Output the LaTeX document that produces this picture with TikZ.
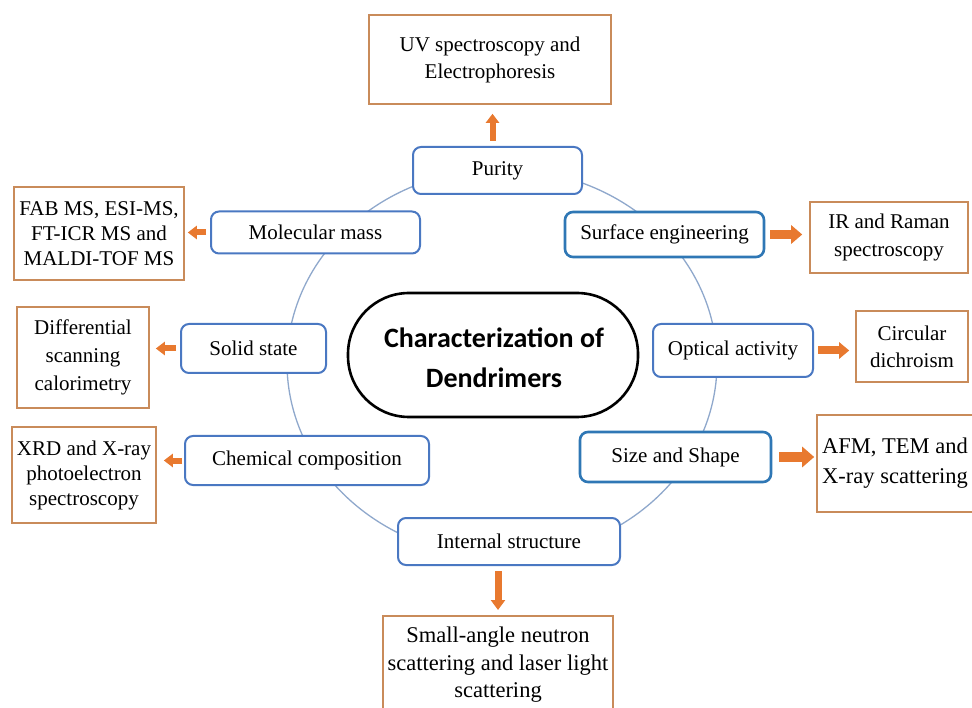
\documentclass[tikz,border=0pt]{standalone}
\usepackage{fontspec}
\setmainfont{Liberation Serif}
\newfontfamily\calibrifont{Carlito}
\usetikzlibrary{arrows.meta}
\definecolor{boxbrown}{HTML}{C98B5A}
\definecolor{arrorange}{HTML}{E8792F}
\definecolor{boxblue}{HTML}{4A78C2}
\definecolor{boxbluedark}{HTML}{2F77B5}
\definecolor{ringblue}{HTML}{8FA8CC}
\begin{document}
\begin{tikzpicture}[x=1pt,y=-1pt,
  method/.style={draw=boxbrown, line width=1.6pt, fill=white, align=center, inner sep=0pt, font=\fontsize{21}{25}\selectfont},
  prop/.style={draw=boxblue, line width=2pt, rounded corners=8pt, fill=white, align=center, inner sep=0pt, font=\fontsize{21}{25}\selectfont},
  propdark/.style={prop, draw=boxbluedark, line width=2.6pt},
  hub/.style={draw=black, line width=2.6pt, rounded corners=61pt, fill=white, inner sep=0pt},
  hubtxt/.style={align=center, inner sep=0pt, font=\calibrifont\bfseries\fontsize{28}{40}\selectfont},
  oarr/.style={draw=arrorange, line width=6pt, -{Triangle[width=13pt,length=9pt]}},
  oarrbig/.style={draw=arrorange, line width=9pt, -{Triangle[width=18pt,length=11pt]}}
]
\useasboundingbox (0,0) rectangle (972,708);
\clip (0,0) rectangle (972,708);
\fill[white] (0,0) rectangle (972,708);

% ring
\draw[ringblue, line width=1.3pt] (502,363) ellipse [x radius=215, y radius=194];

% centre
\node[hub, minimum width=290pt, minimum height=124pt] (hub) at (493,355) {};
\node[hubtxt] (hubtext) at (494,358) {Characterization of\\Dendrimers};

% properties
\node[prop, minimum width=169pt, minimum height=47pt] (purity) at (497.5,170.5) {Purity};
\node[prop, minimum width=209pt, minimum height=42pt] (mm) at (315.5,232.5) {Molecular mass};
\node[propdark, minimum width=199pt, minimum height=45pt] (surf) at (664.5,234.5) {Surface engineering};
\node[prop, minimum width=145pt, minimum height=49pt] (solid) at (253.5,348.5) {Solid state};
\node[prop, minimum width=160pt, minimum height=53pt] (opt) at (733,350.5) {Optical activity};
\node[prop, minimum width=244pt, minimum height=49pt] (chem) at (307,460.5) {Chemical composition};
\node[propdark, minimum width=191pt, minimum height=50pt] (size) at (675.5,457) {Size and Shape};
\node[prop, minimum width=222pt, minimum height=47pt] (internal) at (509,541.5) {Internal structure};

% methods
\node[method, minimum width=242pt, minimum height=89pt, font=\fontsize{21}{27}\selectfont] (uv) at (490,59.5) {UV spectroscopy and\\Electrophoresis};
\node[method, minimum width=170pt, minimum height=93pt, font=\fontsize{21}{25}\selectfont] (fab) at (99,233.5) {FAB MS, ESI-MS,\\FT-ICR MS and\\MALDI-TOF MS};
\node[method, minimum width=158pt, minimum height=71pt, font=\fontsize{21}{28}\selectfont] (ir) at (889,237.5) {IR and Raman\\spectroscopy};
\node[method, minimum width=132pt, minimum height=101pt, font=\fontsize{21}{28}\selectfont] (diff) at (83,357.5) {Differential\\scanning\\calorimetry};
\node[method, minimum width=112pt, minimum height=71pt, font=\fontsize{21}{27}\selectfont] (circ) at (912,346.5) {Circular\\dichroism};
\node[method, minimum width=144pt, minimum height=96pt, font=\fontsize{21}{25}\selectfont] (xrd) at (84,475) {XRD and X-ray\\photoelectron\\spectroscopy};
\node[method, minimum width=156pt, minimum height=97pt, font=\fontsize{22.5}{30}\selectfont] (afm) at (895,463.5) {AFM, TEM and\\X-ray scattering};
\node[method, anchor=north, minimum width=230pt, inner ysep=11.5pt, font=\fontsize{22.5}{27.5}\selectfont] (sans) at (498,615) {Small-angle neutron\\scattering and laser light\\scattering};

% arrows
\draw[oarr, shorten <=5pt, shorten >=9pt] ([xshift=-5pt]purity.north) -- ([xshift=-5pt]purity.north |- uv.south);
\draw[oarr, shorten <=4pt, shorten >=3pt] (mm.west) -- (mm.west -| fab.east);
\draw[oarr, shorten <=4pt, shorten >=6pt] (solid.west) -- (solid.west -| diff.east);
\draw[oarr, shorten <=2pt, shorten >=7pt] (chem.west) -- (chem.west -| xrd.east);
\draw[oarrbig, shorten <=5pt, shorten >=7pt] (surf.east) -- (surf.east -| ir.west);
\draw[oarr, line width=8pt, -{Triangle[width=16pt,length=10pt]}, shorten <=4pt, shorten >=6pt] (opt.east) -- (opt.east -| circ.west);
\draw[oarrbig, line width=10pt, -{Triangle[width=20pt,length=12pt]}, shorten <=7pt, shorten >=2pt] (size.east) -- (size.east -| afm.west);
\draw[oarr, line width=7pt, -{Triangle[width=14pt,length=10pt]}, shorten <=5pt, shorten >=5pt] (internal.south -| sans.north) -- (sans.north);
\end{tikzpicture}
\end{document}
